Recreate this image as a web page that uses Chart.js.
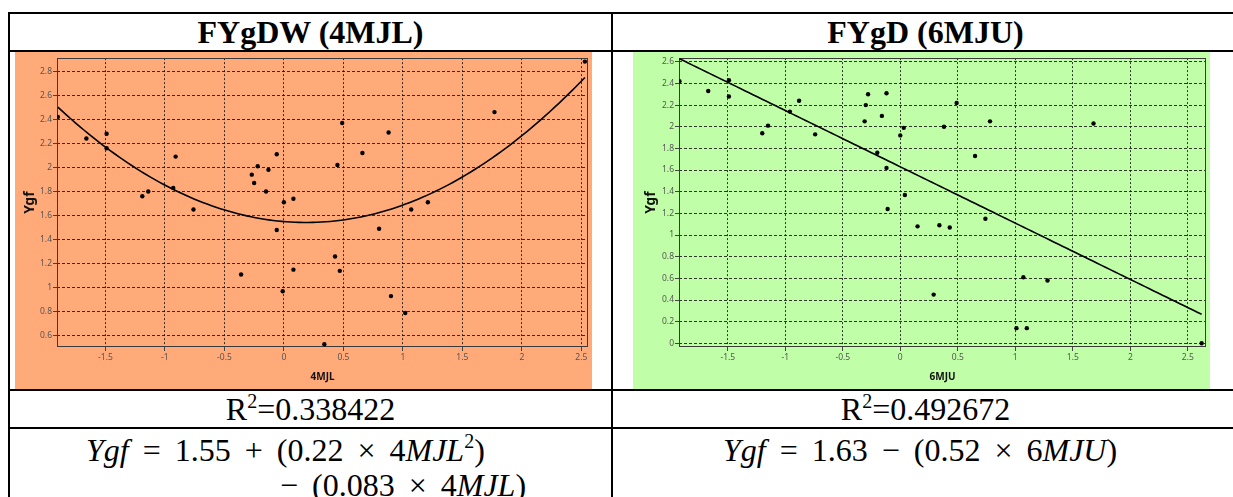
<!DOCTYPE html>
<html>
<head>
<meta charset="utf-8">
<script src="https://cdn.jsdelivr.net/npm/chart.js@4.4.1/dist/chart.umd.min.js"></script>
<style>
  html, body { margin: 0; padding: 0; background: #fff; }
  body { width: 1233px; height: 497px; overflow: hidden; position: relative; }
  .rule { position: absolute; background: #000; }
  .panel { position: absolute; top: 52px; width: 577px; height: 337px; }
  .panel canvas { display: block; }
  .txt { position: absolute; font-family: 'Liberation Serif', 'Times New Roman', serif; color: #000; white-space: nowrap; text-align: center; }
  .title { top: 14px; height: 36px; line-height: 36px; font-size: 32px; font-weight: bold; }
  .r2 { top: 391px; height: 36px; line-height: 36px; font-size: 32px; }
  .r2 sup { font-size: 20px; line-height: 0; vertical-align: 12px; }
  .eq { position: absolute; font-family: 'Liberation Serif', serif; font-size: 32px; line-height: 36px; white-space: nowrap; word-spacing: 6px; }
  .eq sup { font-size: 20px; line-height: 0; vertical-align: 13px; }
</style>
</head>
<body>
  <!-- table rules -->
  <div class="rule" style="left:8px; top:12px; width:1240px; height:2px"></div>
  <div class="rule" style="left:8px; top:50px; width:1240px; height:2px"></div>
  <div class="rule" style="left:8px; top:389px; width:1240px; height:2px"></div>
  <div class="rule" style="left:8px; top:427px; width:1240px; height:2px"></div>
  <div class="rule" style="left:8px; top:12px; width:2px; height:490px"></div>
  <div class="rule" style="left:611px; top:12px; width:2px; height:490px"></div>

  <!-- header row -->
  <div class="txt title" style="left:10px; width:601px">FYgDW (4MJL)</div>
  <div class="txt title" style="left:613px; width:625px">FYgD (6MJU)</div>

  <!-- chart row -->
  <div class="panel" id="panelL" style="left:15px; background:#FFAA78"><canvas id="chartL" width="577" height="337"></canvas></div>
  <div class="panel" id="panelR" style="left:633px; background:#C0FFA8"><canvas id="chartR" width="577" height="337"></canvas></div>

  <!-- R squared row -->
  <div class="txt r2" style="left:10px; width:601px">R<sup>2</sup>=0.338422</div>
  <div class="txt r2" style="left:613px; width:625px">R<sup>2</sup>=0.492672</div>

  <!-- model equations -->
  <div class="eq" style="left:86px; top:432px"><i>Ygf</i> = 1.55 + (0.22 × 4<i>MJL</i><sup>2</sup>)</div>
  <div class="eq" style="left:280px; top:467px">− (0.083 × 4<i>MJL</i>)</div>
  <div class="eq" style="left:723px; top:432px"><i>Ygf</i> = 1.63 − (0.52 × 6<i>MJU</i>)</div>

<script>
// Observations: predictor scores and Ygf response
const x4MJL = [-1.90, -1.66, -1.49, -1.49, -1.19, -1.14, -0.91, -0.93, -0.76, -0.36,
               -0.27, -0.25, -0.22, -0.13, -0.15, -0.06, -0.06, 0.00, -0.01, 0.08,
               0.08, 0.34, 0.43, 0.47, 0.45, 0.49, 0.66, 0.80, 0.88, 0.90,
               1.02, 1.07, 1.21, 1.77, 2.53];
const yLeft  = [2.42, 2.24, 2.28, 2.16, 1.76, 1.80, 2.09, 1.83, 1.65, 1.11,
                1.94, 1.87, 2.01, 1.98, 1.80, 2.11, 1.48, 1.71, 0.97, 1.74,
                1.15, 0.53, 1.26, 1.14, 2.02, 2.37, 2.12, 1.49, 2.29, 0.93,
                0.79, 1.65, 1.71, 2.46, 2.88];

const x6MJU = [-1.92, -1.67, -1.49, -1.49, -1.20, -1.15, -0.96, -0.88, -0.74, -0.31,
               -0.30, -0.28, -0.16, -0.12, -0.20, -0.12, -0.11, 0.00, 0.03, 0.04,
               0.15, 0.34, 0.43, 0.29, 0.38, 0.49, 0.65, 0.74, 0.78, 1.01,
               1.10, 1.07, 1.28, 1.68, 2.62];
const yRight = [2.42, 2.33, 2.43, 2.28, 1.94, 2.01, 2.14, 2.24, 1.93, 2.05,
                2.20, 2.30, 2.10, 2.31, 1.76, 1.62, 1.24, 1.92, 1.99, 1.37,
                1.08, 1.09, 1.07, 0.45, 2.00, 2.22, 1.73, 1.15, 2.05, 0.14,
                0.14, 0.61, 0.58, 2.03, 0.00];

// Fitted models: Ygf = c0 + c1*x + c2*x^2
const quadCoef = [1.55, -0.083, 0.22];
const linCoef  = [1.63, -0.52];

// Axis ticks
const xTicks      = [-1.5, -1, -0.5, 0, 0.5, 1, 1.5, 2, 2.5];
const yTicksLeft  = [0.6, 0.8, 1, 1.2, 1.4, 1.6, 1.8, 2, 2.2, 2.4, 2.6, 2.8];
const yTicksRight = [0, 0.2, 0.4, 0.6, 0.8, 1, 1.2, 1.4, 1.6, 1.8, 2, 2.2, 2.4, 2.6];

const fmt = v => String(+Number(v).toFixed(1));

function modelCurve(coef, xs, steps) {
  const lo = Math.min(...xs), hi = Math.max(...xs);
  const pts = [];
  for (let i = 0; i <= steps; i++) {
    const x = lo + (hi - lo) * i / steps;
    let y = 0;
    coef.forEach((c, k) => { y += c * Math.pow(x, k); });
    pts.push({ x, y });
  }
  return pts;
}

// Box around the plot area
const frame = {
  id: 'frame',
  beforeDatasetsDraw(chart) {
    const { ctx, chartArea: a } = chart;
    ctx.save();
    ctx.strokeStyle = '#3a3a3a';
    ctx.lineWidth = 1;
    ctx.strokeRect(Math.round(a.left) + 0.5, Math.round(a.top) + 0.5,
                   Math.round(a.right - a.left) - 1, Math.round(a.bottom - a.top) - 1);
    ctx.restore();
  }
};

const tickFont = { family: "'Noto Sans', 'DejaVu Sans', sans-serif", size: 8.5 };
const titleFont = { family: "'Noto Sans', 'DejaVu Sans', sans-serif", weight: 'bold' };

function buildChart(id, opt) {
  const points = opt.xs.map((x, i) => ({ x, y: opt.ys[i] }));
  return new Chart(document.getElementById(id), {
    type: 'scatter',
    data: {
      datasets: [
        { data: points, pointRadius: 2.2, pointBackgroundColor: '#000', pointBorderWidth: 0, order: 1 },
        { type: 'line', data: modelCurve(opt.coef, opt.xs, 120), showLine: true, borderColor: '#000',
          borderWidth: 1.6, pointRadius: 0, fill: false, tension: 0, order: 2 }
      ]
    },
    options: {
      responsive: false,
      animation: false,
      devicePixelRatio: 1,
      layout: { padding: { top: opt.padTop, right: opt.padRight, left: 0, bottom: 0 } },
      plugins: { legend: { display: false }, tooltip: { enabled: false } },
      scales: {
        x: {
          type: 'linear', min: opt.xMin, max: opt.xMax,
          afterBuildTicks: s => { s.ticks = xTicks.map(v => ({ value: v })); },
          afterFit: s => { s.height = 42; },
          grid: { color: 'rgba(20,20,20,0.85)', lineWidth: 1, tickLength: 4, tickColor: '#444' },
          border: { display: false, dash: [2, 2] },
          ticks: { font: tickFont, color: '#555', padding: 1, maxRotation: 0, autoSkip: false, callback: fmt },
          title: { display: true, text: opt.xTitle, color: '#111', font: { ...titleFont, size: 10 }, padding: { top: 0, bottom: 6 } }
        },
        y: {
          type: 'linear', min: opt.yMin, max: opt.yMax,
          afterBuildTicks: s => { s.ticks = opt.yTicks.map(v => ({ value: v })); },
          afterFit: s => { s.width = opt.yWidth; },
          grid: { color: 'rgba(20,20,20,0.85)', lineWidth: 1, tickLength: 4, tickColor: '#444' },
          border: { display: false, dash: [3, 2] },
          ticks: { font: tickFont, color: '#555', padding: 1, autoSkip: false, callback: fmt },
          title: { display: true, text: 'Ygf', color: '#111', font: { ...titleFont, size: 14 }, padding: { top: opt.yTitlePad, bottom: 0 } }
        }
      }
    },
    plugins: [frame]
  });
}

buildChart('chartL', {
  xs: x4MJL, ys: yLeft, coef: quadCoef, xTitle: '4MJL', yTicks: yTicksLeft,
  xMin: -1.907, xMax: 2.556, yMin: 0.507, yMax: 2.909,
  padTop: 3, padRight: 3, yWidth: 42, yTitlePad: 7
});

buildChart('chartR', {
  xs: x6MJU, ys: yRight, coef: linCoef, xTitle: '6MJU', yTicks: yTicksRight,
  xMin: -1.924, xMax: 2.658, yMin: -0.034, yMax: 2.634,
  padTop: 5, padRight: 2, yWidth: 46, yTitlePad: 10
});
</script>
</body>
</html>
